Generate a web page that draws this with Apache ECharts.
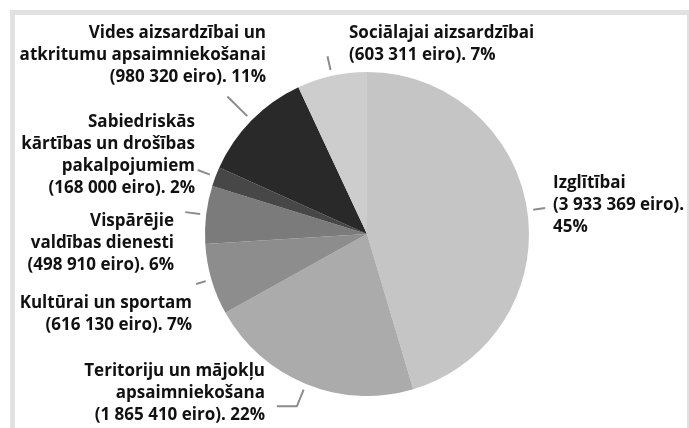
<!DOCTYPE html>
<html>
<head>
<meta charset="utf-8">
<script src="https://cdn.jsdelivr.net/npm/echarts@6/dist/echarts.min.js"></script>
<style>
  html, body { margin: 0; padding: 0; background: #fff; }
  #chart { width: 689px; height: 428px; }
</style>
</head>
<body>
<div id="chart"></div>
<script>
// budžeta sadalījums pa jomām (eiro), pulksteņrādītāja virzienā no augšas
var names = [
    'Izglītībai',
    'Teritoriju un mājokļu\napsaimniekošana',
    'Kultūrai un sportam',
    'Vispārējie\nvaldības dienesti',
    'Sabiedriskās\nkārtības un drošības\npakalpojumiem',
    'Vides aizsardzībai un\natkritumu apsaimniekošanai',
    'Sociālajai aizsardzībai'
];
var values = [3933369, 1865410, 616130, 498910, 168000, 980320, 603311];
var colors = ['#c5c5c5', '#ababab', '#8d8d8d', '#7b7b7b', '#474747', '#292929', '#cdcdcd'];

// label placement (anchor x / middle y) and guide line lengths
var spots = [
    { x: 553, y: 205, align: 'left', pctBreak: true, len: 12, len2: 0 },
    { x: 265, y: 393, align: 'right', len: 18, len2: 20 },
    { x: 192, y: 314, align: 'right', len: 10, len2: 0 },
    { x: 174, y: 243, align: 'right', len: 15, len2: 0 },
    { x: 195, y: 155, align: 'right', len: 13, len2: 0 },
    { x: 266, y: 55, align: 'right', len: 28, len2: 0 },
    { x: 349, y: 44, align: 'left', len: 14, len2: 0 }
];

function fmtNum(v) {
    return String(v).replace(/\B(?=(\d{3})+(?!\d))/g, ' ');
}

var myChart = echarts.init(document.getElementById('chart'));
var center = [367, 234];

var mainData = names.map(function (n, i) {
    return { name: n, value: values[i], itemStyle: { color: colors[i] } };
});
var guideData = names.map(function (n, i) {
    return {
        name: n, value: values[i],
        labelLine: { length: spots[i].len, length2: spots[i].len2 }
    };
});

var option = {
    animation: false,
    backgroundColor: '#fff',
    graphic: [
        { type: 'rect', z: -10, shape: { x: 10, y: 10, width: 679, height: 418 }, style: { fill: '#e1e1e1' } },
        { type: 'rect', z: -9, shape: { x: 15, y: 15, width: 672, height: 413 }, style: { fill: '#fff' } }
    ],
    series: [{
            // tikai vadlīnijas
            name: 'guides',
            type: 'pie',
            silent: true,
            center: center,
            radius: 168,
            startAngle: 90,
            clockwise: true,
            avoidLabelOverlap: false,
            itemStyle: { color: 'rgba(0,0,0,0)' },
            label: {
                show: true,
                position: 'outside',
                formatter: ' ',
                fontSize: 1
            },
            labelLine: {
                show: true,
                lineStyle: { color: '#8c8c8c', width: 2 }
            },
            data: guideData
        },
        {
            name: 'budzets',
            type: 'pie',
            silent: true,
            center: center,
            radius: 162,
            startAngle: 90,
            clockwise: true,
            avoidLabelOverlap: false,
            label: {
                show: true,
                position: 'outside',
                color: '#111',
                fontFamily: 'Open Sans',
                fontWeight: 'bold',
                fontSize: 17,
                lineHeight: 22,
                formatter: function (p) {
                    var s = spots[p.dataIndex];
                    return p.name + '\n(' + fmtNum(p.value) + ' eiro).' +
                        (s.pctBreak ? '\n' : ' ') + Math.round(p.percent) + '%';
                }
            },
            labelLine: { show: false },
            labelLayout: function (p) {
                var s = spots[p.dataIndex];
                return { x: s.x, y: s.y, align: s.align, verticalAlign: 'middle' };
            },
            data: mainData
        }
    ]
};
myChart.setOption(option);
</script>
</body>
</html>
